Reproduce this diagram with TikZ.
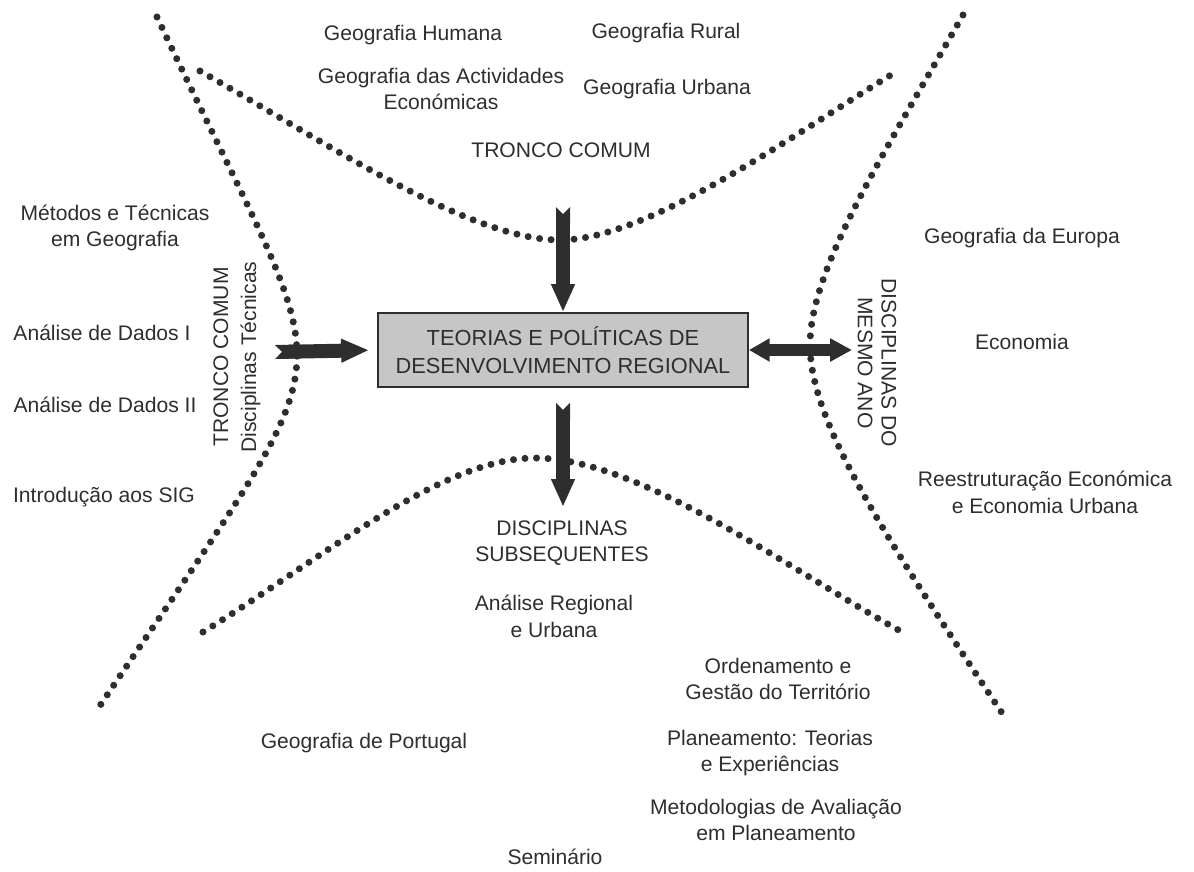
\documentclass[tikz,border=0pt]{standalone}
\usepackage{fontspec}
\setmainfont{Liberation Sans}
\usetikzlibrary{arrows.meta, positioning}

\definecolor{ink}{HTML}{2E2E2E}
\definecolor{boxfill}{HTML}{C6C6C6}

\begin{document}
\begin{tikzpicture} [
						x=0.025cm, y=-0.025cm,
						every node/.style={font=\fontsize{15}{19}\selectfont, text=ink, align=center, inner sep=0pt},
						subject/.style={},
						core/.style={draw=ink, line width=1.2pt, fill=boxfill, minimum width=9.25cm, minimum height=1.85cm, font=\fontsize{15.5}{20}\selectfont},
						dotted line/.style={ink, line width=5pt, line cap=round, dash pattern=on 0pt off 8.2pt},
						fat arrow/.style={ink, line width=0.35cm, {Triangle Cap[reversed]}-{Triangle[length=0.7cm, width=0.55cm]}},
						both arrow/.style={ink, line width=0.3cm, {Triangle[length=0.52cm, width=0.55cm]}-{Triangle[length=0.55cm, width=0.55cm]}}
					]

\useasboundingbox (0,0) rectangle (1194,871);

% central box
\node (teorias) [core] at (563,350) {TEORIAS E POLÍTICAS DE\\DESENVOLVIMENTO REGIONAL};

% tronco comum (top)
\node (geohum) [subject] at (413,35) {Geografia Humana};
\node (georur) [subject] at (666,33) {Geografia Rural};
\node (geoact) [subject] at (441,89) {Geografia das Actividades\\Económicas};
\node (geourb) [subject] at (667,89) {Geografia Urbana};
\node (tcomum) [subject] at (561,150) {TRONCO COMUM};

% disciplinas tecnicas (left)
\node (metodos) [subject] at (115,228) {Métodos e Técnicas\\em Geografia};
\node (dados1) [subject] at (102,333) {Análise de Dados I};
\node (dados2) [subject] at (105,405) {Análise de Dados II};
\node (sig) [subject] at (104,497) {Introdução aos SIG};
\node (tectit) [subject, rotate=90, font=\fontsize{15}{20}\selectfont] at (237,357) {TRONCO COMUM\\Disciplinas Técnicas};

% mesmo ano (right)
\node (anotit) [subject, rotate=-90, font=\fontsize{15}{17}\selectfont] at (877,363) {DISCIPLINAS DO\\MESMO ANO};
\node (europa) [subject] at (1022,238) {Geografia da Europa};
\node (economia) [subject] at (1022,342) {Economia};
\node (reestr) [subject] at (1045,492) {Reestruturação Económica\\e Economia Urbana};

% subsequentes (bottom)
\node (subseq) [subject] at (562,543) {DISCIPLINAS\\SUBSEQUENTES};
\node (regional) [subject] at (554,616) {Análise Regional\\e Urbana};
\node (portugal) [subject] at (364,743) {Geografia de Portugal};
\node (ordenam) [subject] at (778,679) {Ordenamento e\\Gestão do Território};
\node (planeam) [subject] at (770,753) {Planeamento: Teorias\\e Experiências};
\node (metodol) [subject] at (776,820) {Metodologias de Avaliação\\em Planeamento};
\node (seminario) [subject] at (555,857) {Seminário};

% free arrow ends
\coordinate (toptail) at (563,207);
\coordinate (lefttail) at (275,352);
\coordinate (bottip) at (563,507);
\coordinate (righttip) at (852,350);

% dotted borders
\draw[dotted line] (157,17) .. controls (250,215) and (297,290) .. (297,355)
	.. controls (297,425) and (245,490) .. (95,713);
\draw[dotted line] (200,71) .. controls (330,145) and (470,240) .. (560,240)
	.. controls (650,240) and (800,130) .. (899,70);
\draw[dotted line] (203,632) .. controls (320,560) and (440,458) .. (535,458)
	.. controls (640,458) and (790,570) .. (902,632);
\draw[dotted line] (963,15) .. controls (880,160) and (810,270) .. (810,345)
	.. controls (810,420) and (880,530) .. (1002,713);

% arrows
\draw[fat arrow] (toptail) -- (teorias.north);
\draw[fat arrow, shorten >=0.2cm] (lefttail) -- (teorias.west);
\draw[fat arrow, shorten <=0.375cm] (teorias.south) -- (bottip);
\draw[both arrow] (teorias.east) -- (righttip);

\end{tikzpicture}
\end{document}
